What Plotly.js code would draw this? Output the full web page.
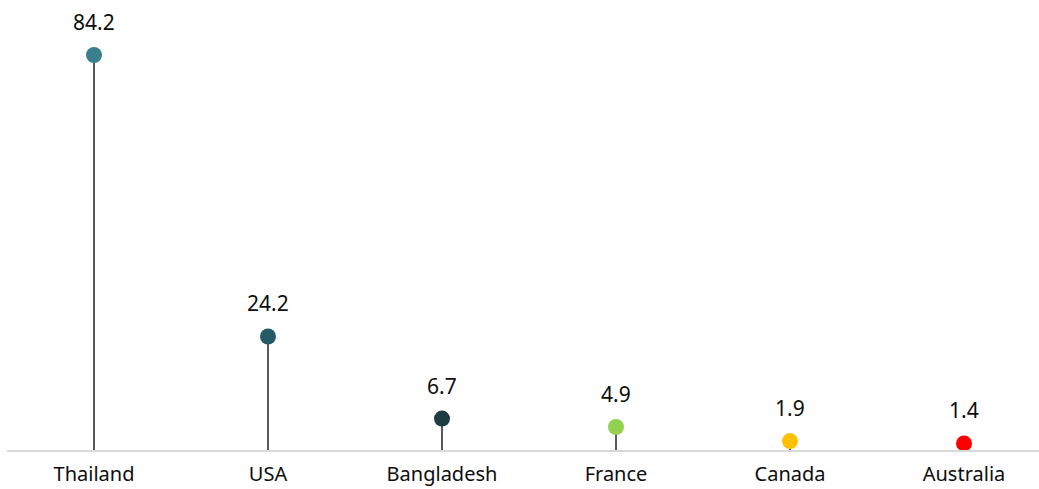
<!DOCTYPE html>
<html><head><meta charset="utf-8">
<script src="https://cdn.plot.ly/plotly-3.0.1.min.js"></script>
<style>html,body{margin:0;padding:0;background:#fff;overflow:hidden}</style>
</head><body>
<div id="chart" style="width:1039px;height:489px"></div>
<script>
const categories = ["Thailand", "USA", "Bangladesh", "France", "Canada", "Australia"];
const values = [84.2, 24.2, 6.7, 4.9, 1.9, 1.4];
const labels = ["84.2", "24.2", "6.7", "4.9", "1.9", "1.4"];
const colors = ["#3a7f8e", "#245a63", "#1e3d43", "#92d050", "#ffc000", "#ff0000"];

const trace = {
  type: "scatter",
  mode: "markers",
  x: categories,
  y: values,
  marker: {size: 16, color: colors, line: {width: 0}},
  error_y: {type: "data", symmetric: false, array: values.map(() => 0), arrayminus: values,
            color: "#595959", thickness: 2, width: 0},
  hoverinfo: "skip",
  cliponaxis: false
};

const annotations = categories.map((c, i) => ({
  x: c, y: values[i], text: labels[i], showarrow: false,
  yanchor: "bottom", yshift: 17,
  font: {family: "Noto Sans, sans-serif", size: 21, color: "#0d0d0d"}
}));

const layout = {
  width: 1039, height: 489,
  margin: {l: 7, r: 0, t: 0, b: 39},
  paper_bgcolor: "#fff", plot_bgcolor: "#fff",
  showlegend: false,
  xaxis: {
    type: "category", range: [-0.5, 5.431],
    showgrid: false, zeroline: false,
    showline: true, linecolor: "#d9d9d9", linewidth: 2,
    ticks: "", ticklabelstandoff: 5,
    tickfont: {family: "Noto Sans, sans-serif", size: 20, color: "#0d0d0d"}
  },
  yaxis: {
    range: [0, 95.93], visible: false, showgrid: false, zeroline: false
  },
  annotations: annotations
};

Plotly.newPlot("chart", [trace], layout, {displayModeBar: false, staticPlot: true});
</script>
</body></html>
